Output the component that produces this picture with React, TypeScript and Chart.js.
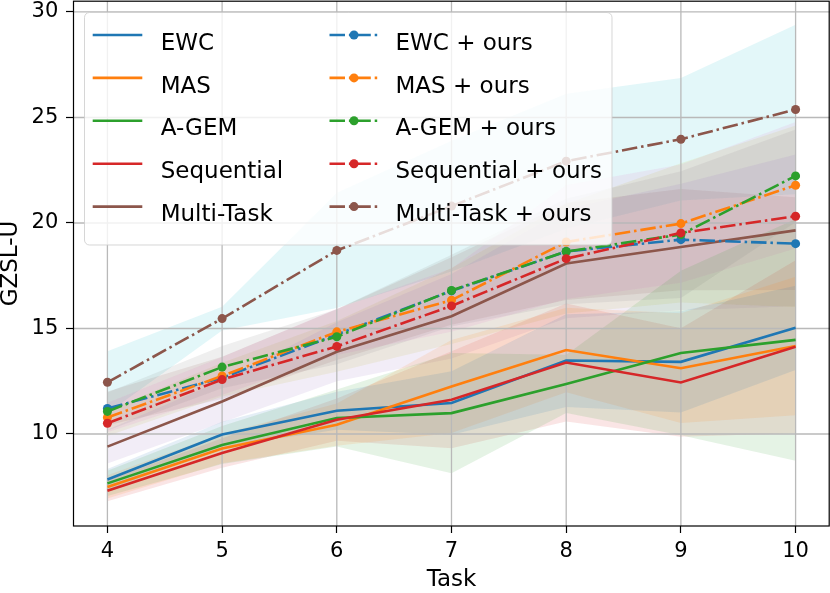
import React, { useEffect, useRef } from "react";
import { Chart, registerables } from "chart.js";

Chart.register(...registerables);

// ---------------- data ----------------
const tasks = [4, 5, 6, 7, 8, 9, 10];
const xTicks = [4, 5, 6, 7, 8, 9, 10];
const yTicks = [10, 15, 20, 25, 30];

const methodLabels = ["EWC", "MAS", "A-GEM", "Sequential", "Multi-Task"];
const oursLabels = ["EWC + ours", "MAS + ours", "A-GEM + ours", "Sequential + ours", "Multi-Task + ours"];

// mean curves (baseline methods, solid)
const ewc = [7.84, 9.98, 11.1, 11.47, 13.48, 13.42, 15.03];
const mas = [7.49, 9.31, 10.44, 12.25, 13.98, 13.12, 14.17];
const agem = [7.66, 9.48, 10.76, 10.99, 12.37, 13.84, 14.46];
const sequential = [7.31, 9.1, 10.68, 11.62, 13.39, 12.44, 14.13];
const multiTask = [9.4, 11.54, 13.9, 15.58, 18.08, 18.86, 19.65];

// mean curves ("+ ours", dash-dot with markers)
const ewcOurs = [11.21, 12.66, 14.71, 16.78, 18.65, 19.21, 19.02];
const masOurs = [10.78, 12.75, 14.84, 16.34, 19.1, 19.97, 21.79];
const agemOurs = [11.07, 13.17, 14.61, 16.8, 18.65, 19.45, 22.23];
const sequentialOurs = [10.51, 12.58, 14.15, 16.07, 18.31, 19.53, 20.32];
const multiTaskOurs = [12.45, 15.47, 18.7, 20.8, 22.93, 23.97, 25.38];

// half-widths of the shaded bands (std)
const ewcStd = [0.5, 0.6, 0.9, 1.5, 2.2, 2.4, 2.0];
const masStd = [0.55, 0.7, 1.0, 2.2, 2.0, 2.6, 3.28];
const agemStd = [0.6, 0.9, 1.35, 2.85, 1.38, 3.9, 5.73];
const sequentialStd = [0.5, 0.7, 1.0, 2.3, 2.8, 2.57, 4.1];
const multiTaskStd = [0.8, 1.0, 1.4, 2.0, 2.6, 3.0, 3.6];
const ewcOursStd = [0.8, 1.0, 1.2, 1.6, 2.3, 2.4, 2.2];
const masOursStd = [0.7, 0.9, 1.1, 1.5, 2.7, 2.8, 3.0];
const agemOursStd = [0.9, 1.0, 1.3, 1.7, 2.5, 3.0, 2.2];
const sequentialOursStd = [0.6, 0.8, 1.2, 1.8, 2.6, 3.3, 4.3];
const multiTaskOursStd = [1.47, 0.56, 2.73, 3.1, 3.2, 2.9, 4.02];

// ---------------- styles ----------------
const FONT = "'DejaVu Sans', 'Liberation Sans', sans-serif";
const lineColors = ["#1f77b4", "#ff7f0e", "#2ca02c", "#d62728", "#8c564b"];
// matplotlib's fill cycler runs independently of the line colours
const bandColors = [
  "#1f77b4", "#ff7f0e", "#2ca02c", "#d62728", "#9467bd",
  "#8c564b", "#e377c2", "#7f7f7f", "#bcbd22", "#17becf",
];
const BAND_ALPHA = 0.12;
const LINE_W = 2.6;
const DASH = [15.5, 3.9, 2.5, 3.9];
const MARKER_R = 4.5;
const GRID_COLOR = "#b9b9b9";

function rgba(hex: string, a: number) {
  const n = parseInt(hex.slice(1), 16);
  return `rgba(${(n >> 16) & 255},${(n >> 8) & 255},${n & 255},${a})`;
}

const pts = (ys: number[]) => tasks.map((x, i) => ({ x, y: ys[i] }));

const baseMeans = [ewc, mas, agem, sequential, multiTask];
const oursMeans = [ewcOurs, masOurs, agemOurs, sequentialOurs, multiTaskOurs];
const baseStds = [ewcStd, masStd, agemStd, sequentialStd, multiTaskStd];
const oursStds = [ewcOursStd, masOursStd, agemOursStd, sequentialOursStd, multiTaskOursStd];

function buildDatasets() {
  const ds: any[] = [];
  const allMeans = [...baseMeans, ...oursMeans];
  const allStds = [...baseStds, ...oursStds];
  // shaded bands: lower edge, then upper edge filled to it
  allMeans.forEach((m, k) => {
    const s = allStds[k];
    ds.push({
      label: "_band_lo" + k,
      data: pts(m.map((v, i) => v - s[i])),
      borderColor: "rgba(0,0,0,0)",
      borderWidth: 0,
      pointRadius: 0,
      fill: false,
      order: 500,
    });
    ds.push({
      label: "_band_hi" + k,
      data: pts(m.map((v, i) => v + s[i])),
      borderColor: "rgba(0,0,0,0)",
      borderWidth: 0,
      pointRadius: 0,
      fill: "-1",
      backgroundColor: rgba(bandColors[k], BAND_ALPHA),
      order: 500,
    });
  });
  let ord = 100;
  baseMeans.forEach((m, i) => {
    ds.push({
      label: methodLabels[i],
      data: pts(m),
      borderColor: lineColors[i],
      borderWidth: LINE_W,
      pointRadius: 0,
      fill: false,
      tension: 0,
      order: ord--,
    });
  });
  oursMeans.forEach((m, i) => {
    ds.push({
      label: oursLabels[i],
      data: pts(m),
      borderColor: lineColors[i],
      borderWidth: LINE_W,
      borderDash: DASH,
      pointRadius: MARKER_R,
      pointBackgroundColor: lineColors[i],
      pointBorderColor: lineColors[i],
      pointBorderWidth: 0,
      fill: false,
      tension: 0,
      order: ord--,
    });
  });
  return ds;
}

function roundRectPath(ctx: CanvasRenderingContext2D, x: number, y: number, w: number, h: number, r: number) {
  ctx.beginPath();
  ctx.moveTo(x + r, y);
  ctx.lineTo(x + w - r, y);
  ctx.arcTo(x + w, y, x + w, y + r, r);
  ctx.lineTo(x + w, y + h - r);
  ctx.arcTo(x + w, y + h, x + w - r, y + h, r);
  ctx.lineTo(x + r, y + h);
  ctx.arcTo(x, y + h, x, y + h - r, r);
  ctx.lineTo(x, y + r);
  ctx.arcTo(x, y, x + r, y, r);
  ctx.closePath();
}

const overlayPlugin = {
  id: "mplOverlay",
  beforeDatasetsDraw(chart: any) {
    // grid lines above the bands, below the curves
    const { ctx, chartArea: a, scales } = chart;
    ctx.save();
    ctx.strokeStyle = GRID_COLOR;
    ctx.lineWidth = 1.3;
    xTicks.forEach((v) => {
      const px = scales.x.getPixelForValue(v);
      ctx.beginPath();
      ctx.moveTo(px, a.top);
      ctx.lineTo(px, a.bottom);
      ctx.stroke();
    });
    yTicks.forEach((v) => {
      const py = scales.y.getPixelForValue(v);
      ctx.beginPath();
      ctx.moveTo(a.left, py);
      ctx.lineTo(a.right, py);
      ctx.stroke();
    });
    ctx.restore();
  },
  afterDatasetsDraw(chart: any) {
    const { ctx, chartArea: a } = chart;
    ctx.save();
    ctx.strokeStyle = "#000";
    ctx.lineWidth = 1.2;
    ctx.strokeRect(a.left + 0.5, a.top + 0.2, a.right - a.left - 1.3, a.bottom - a.top - 0.2);
    ctx.restore();
  },
  afterDraw(chart: any) {
    const ctx: CanvasRenderingContext2D = chart.ctx;
    ctx.save();
    const bx = 84.5, by = 12.5, bw = 527.5, bh = 232.5;
    roundRectPath(ctx, bx, by, bw, bh, 5);
    ctx.fillStyle = "rgba(255,255,255,0.8)";
    ctx.fill();
    ctx.strokeStyle = "rgba(204,204,204,0.8)";
    ctx.lineWidth = 1;
    ctx.stroke();

    ctx.font = `23px ${FONT}`;
    ctx.textBaseline = "alphabetic";
    ctx.textAlign = "left";
    for (let i = 0; i < methodLabels.length; i++) {
      const base = 49.6 + i * 42.9;
      const ly = base - 14.6;
      const col = lineColors[i];
      // column 1: solid handle
      ctx.strokeStyle = col;
      ctx.lineWidth = LINE_W;
      ctx.lineCap = "butt";
      ctx.setLineDash([]);
      ctx.beginPath();
      ctx.moveTo(92.7, ly);
      ctx.lineTo(142.3, ly);
      ctx.stroke();
      ctx.fillStyle = "#000";
      ctx.fillText(methodLabels[i], 160.7, base);
      // column 2: dash-dot handle with marker
      ctx.setLineDash(DASH);
      ctx.beginPath();
      ctx.moveTo(329.5, ly);
      ctx.lineTo(378.5, ly);
      ctx.stroke();
      ctx.setLineDash([]);
      ctx.fillStyle = col;
      ctx.beginPath();
      ctx.arc(354, ly, MARKER_R, 0, Math.PI * 2);
      ctx.fill();
      ctx.fillStyle = "#000";
      ctx.fillText(oursLabels[i], 395.5, base);
    }
    ctx.restore();
  },
};

function zeroPadding(s: any) {
  s.paddingTop = 0;
  s.paddingBottom = 0;
  s.paddingLeft = 0;
  s.paddingRight = 0;
}

export default function App() {
  const ref = useRef<HTMLCanvasElement | null>(null);

  useEffect(() => {
    document.body.style.margin = "0";
    const canvas = ref.current;
    if (!canvas) return;
    const chart = new Chart(canvas, {
      type: "line",
      data: { datasets: buildDatasets() },
      options: {
        responsive: false,
        animation: false,
        events: [],
        layout: { autoPadding: false, padding: { top: 1, left: 0, right: 0, bottom: 0 } },
        plugins: {
          legend: { display: false },
          tooltip: { enabled: false },
          filler: { drawTime: "beforeDatasetsDraw", propagate: false },
        },
        scales: {
          x: {
            type: "linear",
            min: 3.7,
            max: 10.3,
            afterBuildTicks: (s: any) => {
              s.ticks = xTicks.map((v) => ({ value: v }));
            },
            afterFit: (s: any) => {
              s.height = 67;
              zeroPadding(s);
            },
            ticks: {
              color: "#000",
              font: { family: FONT, size: 21 },
              padding: 6,
              maxRotation: 0,
              autoSkip: false,
              callback: (v: any) => String(v),
            },
            grid: {
              drawOnChartArea: false,
              drawTicks: true,
              tickLength: 7,
              tickColor: "#000",
              tickWidth: 1.2,
            },
            border: { display: false },
            title: {
              display: true,
              text: "Task",
              color: "#000",
              font: { family: FONT, size: 23, lineHeight: 1.14 },
              padding: 0,
            },
          },
          y: {
            type: "linear",
            min: 5.64,
            max: 30.52,
            afterBuildTicks: (s: any) => {
              s.ticks = yTicks.map((v) => ({ value: v }));
            },
            afterFit: (s: any) => {
              s.width = 73;
              zeroPadding(s);
            },
            ticks: {
              color: "#000",
              font: { family: FONT, size: 21 },
              padding: 7.7,
              autoSkip: false,
              callback: (v: any) => String(v),
            },
            grid: {
              drawOnChartArea: false,
              drawTicks: true,
              tickLength: 7,
              tickColor: "#000",
              tickWidth: 1.2,
            },
            border: { display: false },
            title: {
              display: true,
              text: "GZSL-U",
              color: "#000",
              font: { family: FONT, size: 23, lineHeight: 0.93 },
              padding: 0,
            },
          },
        },
      } as any,
      plugins: [overlayPlugin as any],
    });
    return () => chart.destroy();
  }, []);

  return (
    <div style={{ position: "absolute", left: 0, top: 0, width: 830, height: 593, background: "#fff" }}>
      <canvas ref={ref} width={830} height={593} style={{ display: "block" }} />
    </div>
  );
}
